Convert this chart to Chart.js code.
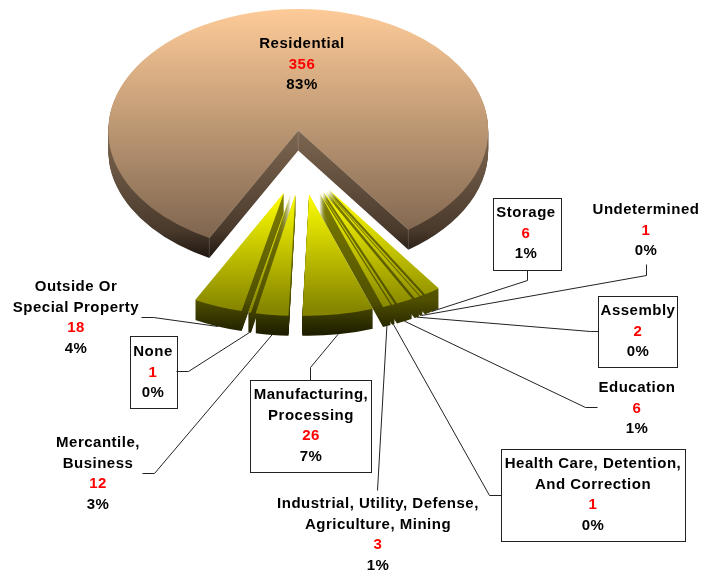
<!DOCTYPE html>
<html>
<head>
<meta charset="utf-8">
<title>Fires by property use</title>
<script src="https://cdn.jsdelivr.net/npm/chart.js@4"></script>
<style>
  html, body { margin: 0; padding: 0; background: #fff; }
  canvas { display: block; }
</style>
</head>
<body>
<canvas id="pieChart" width="713" height="573"></canvas>
<script>
// Data, clockwise starting with the big slice
const categories = [
  "Residential", "Storage", "Undetermined", "Assembly", "Education",
  "Health Care, Detention, And Correction",
  "Industrial, Utility, Defense, Agriculture, Mining",
  "Manufacturing, Processing", "Mercantile, Business", "None",
  "Outside Or Special Property",
];
const counts = [356, 6, 1, 2, 6, 1, 3, 26, 12, 1, 18];
const percents = ["83%", "1%", "0%", "0%", "1%", "0%", "1%", "7%", "3%", "0%", "4%"];

// How each name wraps on the picture
const labelLines = [
  ["Residential"], ["Storage"], ["Undetermined"], ["Assembly"], ["Education"],
  ["Health Care, Detention,", "And Correction"],
  ["Industrial, Utility, Defense,", "Agriculture, Mining"],
  ["Manufacturing,", "Processing"], ["Mercantile,", "Business"], ["None"],
  ["Outside Or", "Special Property"],
];

// Label placement: text centre x, first line y, optional box [x0,y0,x1,y1], leader bend points
const labelLayout = [
  { x: 302, y: 43 },
  { x: 526, y: 212, box: [493, 198, 561, 270], leader: [[527, 280], [527, 270]] },
  { x: 646, y: 209, leader: [[646, 275], [646, 264]] },
  { x: 638, y: 310, box: [598, 296, 677, 367], leader: [[590, 331], [598, 331]] },
  { x: 637, y: 387, leader: [[585, 407], [597, 407]] },
  { x: 593, y: 463, box: [501, 449, 685, 541], leader: [[489, 495], [501, 495]] },
  { x: 378, y: 503, leader: [[377, 490]] },
  { x: 311, y: 394, box: [250, 380, 371, 472], leader: [[310, 367], [310, 380]] },
  { x: 98, y: 442, leader: [[154, 473], [142, 473]] },
  { x: 153, y: 351, box: [130, 336, 177, 408], leader: [[188, 371], [176, 371]] },
  { x: 76, y: 286, leader: [[153, 317], [141, 317]] },
];

// 3D look of the pie
const centerX = 301.5;
const centerY = 162.5;
const squash = 0.64;   // tilt of the pie
const depth = 20;      // thickness in pixels
const explode = 50;    // every slice is pulled out this far
const lineHeight = 20.6;

// Vertical shading, [screen y, colour]
const bigTop = [[7, "#ffcc99"], [237, "#7f6650"]];
const bigSide = [[131, "#7d6650"], [230, "#4a3a2c"], [258, "#1f1610"]];
const smallTop = [[193, "#ffff00"], [310, "#858500"]];
const smallSide = [[193, "#808000"], [300, "#505000"], [333, "#1f1f00"]];

function sliceOrigin(arc) {
  const mid = (arc.startAngle + arc.endAngle) / 2;
  return {
    x: centerX + explode * Math.cos(mid),
    y: centerY + explode * Math.sin(mid) * squash,
    mid: mid,
  };
}

// Draws the library's arc once, shifted down by k pixels, with a gradient given in screen y
function drawLayer(ctx, arc, origin, k, stops) {
  const top = origin.y + k;
  const toLocal = (y) => arc.y + (y - top) / squash;
  const grad = ctx.createLinearGradient(0, toLocal(stops[0][0]), 0, toLocal(stops[stops.length - 1][0]));
  const span = stops[stops.length - 1][0] - stops[0][0];
  stops.forEach((s) => grad.addColorStop((s[0] - stops[0][0]) / span, s[1]));

  const layer = Object.create(arc);
  layer.options = Object.assign({}, arc.options, { backgroundColor: grad });

  ctx.save();
  ctx.translate(origin.x, top);
  ctx.scale(1, squash);
  ctx.translate(-arc.x, -arc.y);
  layer.draw(ctx);
  ctx.restore();
}

// Thin light edges along the cut of the big slice
function drawCutEdges(ctx, arc, origin) {
  const r = arc.outerRadius;
  const rimPoint = (a) => [origin.x + r * Math.cos(a), origin.y + r * Math.sin(a) * squash];
  const a = rimPoint(arc.startAngle);
  const b = rimPoint(arc.endAngle);
  ctx.save();
  ctx.strokeStyle = "rgba(255,255,255,0.16)";
  ctx.lineWidth = 1;
  ctx.beginPath();
  ctx.moveTo(a[0], a[1]);
  ctx.lineTo(origin.x, origin.y);
  ctx.lineTo(b[0], b[1]);
  [a, b, [origin.x, origin.y]].forEach((p) => {
    ctx.moveTo(p[0], p[1]);
    ctx.lineTo(p[0], p[1] + depth);
  });
  ctx.stroke();
  ctx.restore();
}

const pie3d = {
  id: "pie3d",
  beforeDatasetDraw(chart, args) {
    const ctx = chart.ctx;
    // back slices first, the ones nearest the viewer last
    const order = args.meta.data.map((arc, i) => ({ arc, i }));
    order.sort((a, b) => Math.sin((a.arc.startAngle + a.arc.endAngle) / 2) - Math.sin((b.arc.startAngle + b.arc.endAngle) / 2));
    order.forEach(({ arc, i }) => {
      const origin = sliceOrigin(arc);
      const side = i === 0 ? bigSide : smallSide;
      for (let k = depth; k > 0; k--) {
        drawLayer(ctx, arc, origin, k, side);
      }
      drawLayer(ctx, arc, origin, 0, i === 0 ? bigTop : smallTop);
      if (i === 0) drawCutEdges(ctx, arc, origin);
    });
    return false; // already drawn
  },
  afterDraw(chart) {
    const ctx = chart.ctx;
    const arcs = chart.getDatasetMeta(0).data;
    ctx.save();
    ctx.lineWidth = 1;
    ctx.font = "bold 15px 'Liberation Sans', Arial, sans-serif";
    ctx.textAlign = "center";
    ctx.textBaseline = "middle";
    ctx.letterSpacing = "0.5px";

    labelLayout.forEach((spot, i) => {
      ctx.strokeStyle = "#222";
      if (spot.leader) {
        // leaders start on the lower rim, at the middle of the slice
        const origin = sliceOrigin(arcs[i]);
        const r = arcs[i].outerRadius;
        ctx.beginPath();
        ctx.moveTo(origin.x + r * Math.cos(origin.mid), origin.y + r * Math.sin(origin.mid) * squash + depth);
        spot.leader.forEach((p) => ctx.lineTo(p[0] + 0.5, p[1] + 0.5));
        ctx.stroke();
      }
      if (spot.box) {
        const b = spot.box;
        ctx.strokeRect(b[0] + 0.5, b[1] + 0.5, b[2] - b[0], b[3] - b[1]);
      }
      let y = spot.y + 1;
      labelLines[i].forEach((line) => {
        ctx.fillStyle = "#000";
        ctx.fillText(line, spot.x, y);
        y += lineHeight;
      });
      ctx.fillStyle = "#ff0000";
      ctx.fillText(String(counts[i]), spot.x, y);
      y += lineHeight;
      ctx.fillStyle = "#000";
      ctx.fillText(percents[i], spot.x, y);
    });
    ctx.restore();
  },
};

new Chart(document.getElementById("pieChart"), {
  type: "pie",
  data: {
    labels: categories,
    datasets: [
      {
        data: counts,
        backgroundColor: ["#ffcc99"].concat(counts.slice(1).map(() => "#ffff00")),
        borderWidth: 0,
      },
    ],
  },
  options: {
    responsive: false,
    animation: false,
    radius: 190,
    rotation: 207.9,
    events: [],
    layout: { padding: 0 },
    plugins: {
      legend: { display: false },
      tooltip: { enabled: false },
    },
  },
  plugins: [pie3d],
});
</script>
</body>
</html>
